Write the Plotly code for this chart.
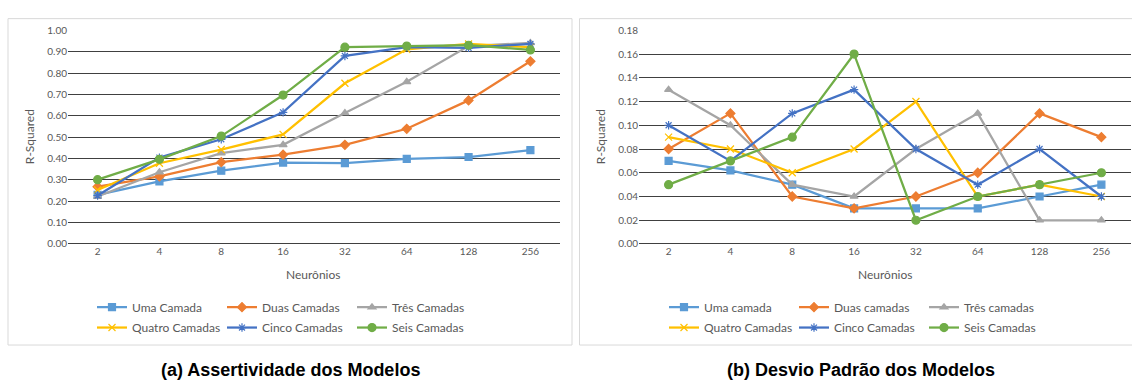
import plotly.graph_objects as go

neurons = ["2", "4", "8", "16", "32", "64", "128", "256"]

names_a = ["Uma Camada", "Duas Camadas", "Três Camadas",
           "Quatro Camadas", "Cinco Camadas", "Seis Camadas"]
names_b = ["Uma camada", "Duas camadas", "Três camadas",
           "Quatro Camadas", "Cinco Camadas", "Seis Camadas"]

# (a) Assertividade (R-Squared)
uma_a    = [0.23, 0.293, 0.343, 0.381, 0.378, 0.398, 0.407, 0.439]
duas_a   = [0.268, 0.316, 0.383, 0.418, 0.464, 0.539, 0.672, 0.855]
tres_a   = [0.222, 0.336, 0.425, 0.464, 0.613, 0.759, 0.926, 0.941]
quatro_a = [0.253, 0.378, 0.442, 0.513, 0.752, 0.911, 0.936, 0.921]
cinco_a  = [0.227, 0.404, 0.490, 0.616, 0.880, 0.921, 0.918, 0.936]
seis_a   = [0.301, 0.396, 0.505, 0.697, 0.921, 0.926, 0.930, 0.908]

# (b) Desvio padrão
uma_b    = [0.07, 0.062, 0.05, 0.03, 0.03, 0.03, 0.04, 0.05]
duas_b   = [0.08, 0.11, 0.04, 0.03, 0.04, 0.06, 0.11, 0.09]
tres_b   = [0.13, 0.10, 0.05, 0.04, 0.08, 0.11, 0.02, 0.02]
quatro_b = [0.09, 0.08, 0.06, 0.08, 0.12, 0.04, 0.05, 0.04]
cinco_b  = [0.10, 0.07, 0.11, 0.13, 0.08, 0.05, 0.08, 0.04]
seis_b   = [0.05, 0.07, 0.09, 0.16, 0.02, 0.04, 0.05, 0.06]

series_a = [uma_a, duas_a, tres_a, quatro_a, cinco_a, seis_a]
series_b = [uma_b, duas_b, tres_b, quatro_b, cinco_b, seis_b]

colors = ["#5B9BD5", "#ED7D31", "#A5A5A5", "#FFC000", "#4472C4", "#70AD47"]
symbols = ["square", "diamond", "triangle-up", "x-thin-open", "asterisk-open", "circle"]
msizes = [7, 7, 7, 7, 7, 8]

W, H = 1132, 385
def px(x):
    return x / W
def py(y):
    return (H - y) / H

fig = go.Figure()

legends_a = ["legend", "legend", "legend", "legend2", "legend2", "legend2"]
legends_b = ["legend3", "legend3", "legend3", "legend4", "legend4", "legend4"]

for i in range(6):
    fig.add_trace(go.Scatter(
        x=neurons, y=series_a[i], name=names_a[i], mode="lines+markers",
        line=dict(color=colors[i], width=2.25),
        marker=dict(symbol=symbols[i], size=msizes[i], color=colors[i],
                    line=dict(color=colors[i], width=1.2)),
        xaxis="x", yaxis="y", legend=legends_a[i]))
for i in range(6):
    fig.add_trace(go.Scatter(
        x=neurons, y=series_b[i], name=names_b[i], mode="lines+markers",
        line=dict(color=colors[i], width=2.25),
        marker=dict(symbol=symbols[i], size=msizes[i], color=colors[i],
                    line=dict(color=colors[i], width=1.2)),
        xaxis="x2", yaxis="y2", legend=legends_b[i]))

tick_font = dict(family="Lato", size=10, color="#595959")
grid_col = "#404040"

common_x = dict(type="category", showgrid=False, ticks="", showline=False,
                zeroline=False, tickfont=tick_font, fixedrange=True)
common_y = dict(showgrid=True, gridcolor=grid_col, gridwidth=1, zeroline=True,
                zerolinecolor=grid_col, zerolinewidth=1, showline=False,
                ticks="", tickfont=tick_font, tickformat=".2f")

plot_top, plot_bot = 25, 245
fig.update_layout(
    width=W, height=H,
    margin=dict(l=0, r=0, t=0, b=0),
    paper_bgcolor="white", plot_bgcolor="white",
    xaxis=dict(domain=[px(68), px(560)], anchor="y", **common_x),
    yaxis=dict(domain=[py(plot_bot), py(plot_top)], anchor="x",
               range=[0, 1.0], dtick=0.1, **common_y),
    xaxis2=dict(domain=[px(639), px(1131)], anchor="y2", **common_x),
    yaxis2=dict(domain=[py(plot_bot), py(plot_top)], anchor="x2",
                range=[0, 0.18], dtick=0.02, **common_y),
)

leg_font = dict(family="Lato", size=12, color="#595959")
def leg(x, y):
    return dict(orientation="h", x=px(x), y=py(y), xanchor="left", yanchor="middle",
                entrywidth=85, entrywidthmode="pixels", font=leg_font,
                bgcolor="rgba(0,0,0,0)", itemclick=False, itemdoubleclick=False)

fig.update_layout(
    legend=leg(92, 310),
    legend2=leg(92, 331),
    legend3=leg(664, 310),
    legend4=leg(664, 331),
)

# chart frames
fig.add_shape(type="rect", xref="paper", yref="paper",
              x0=px(8), x1=px(572), y0=py(349), y1=py(13),
              line=dict(color="#D9D9D9", width=1), fillcolor="rgba(0,0,0,0)", layer="below")
fig.add_shape(type="rect", xref="paper", yref="paper",
              x0=px(579.5), x1=px(1143), y0=py(349), y1=py(13),
              line=dict(color="#D9D9D9", width=1), fillcolor="rgba(0,0,0,0)", layer="below")

title_font = dict(family="Lato", size=12, color="#595959")
ann = [
    dict(text="R-Squared", x=px(29), y=py(135), textangle=-90, font=title_font),
    dict(text="R-Squared", x=px(600), y=py(135), textangle=-90, font=title_font),
    dict(text="Neurônios", x=px(314), y=py(276), font=title_font),
    dict(text="Neurônios", x=px(885), y=py(276), font=title_font),
    dict(text="<b>(a) Assertividade dos Modelos</b>", x=px(290), y=py(375),
         font=dict(family="Liberation Sans", size=18, color="black")),
    dict(text="<b>(b) Desvio Padrão dos Modelos</b>", x=px(861), y=py(375),
         font=dict(family="Liberation Sans", size=18, color="black")),
]
for a in ann:
    fig.add_annotation(xref="paper", yref="paper", showarrow=False,
                       xanchor="center", yanchor="middle", **a)

fig.write_html("out.html",
               config={"displayModeBar": False},
               post_script="document.body.style.margin='0';document.body.style.overflow='hidden';")
